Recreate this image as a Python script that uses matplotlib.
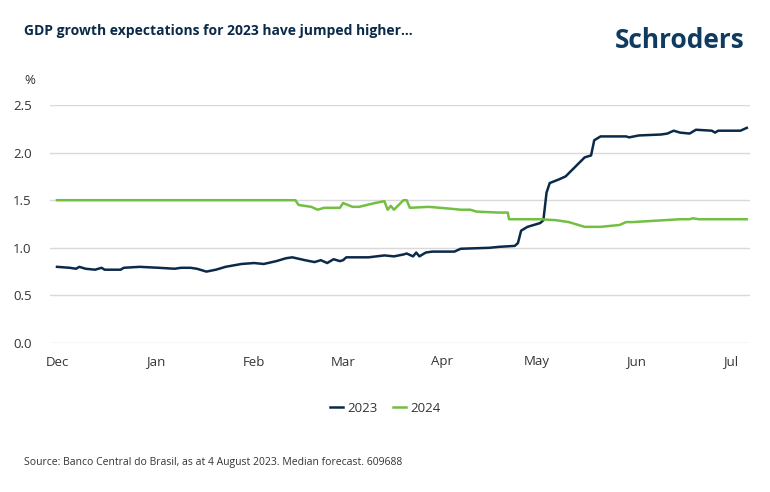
import matplotlib.pyplot as plt

# x = days since 1 Dec 2022
months = ["Dec", "Jan", "Feb", "Mar", "Apr", "May", "Jun", "Jul"]
month_days = [0, 31, 62, 90, 121, 151, 182, 212]

days_2023 = [0, 4, 6, 7, 9, 12, 14, 15, 20, 21, 26, 32, 37, 39, 42, 44, 47, 50, 53, 58,
             62, 65, 69, 72, 74, 78, 81, 83, 85, 87, 89, 90, 91, 98, 103, 106, 109, 110,
             112, 113, 114, 116, 118, 125, 127, 136, 139, 144, 145, 146, 148, 152, 153,
             154, 155, 158, 160, 163, 166, 168, 169, 171, 179, 180, 183, 190, 192, 194,
             196, 199, 201, 206, 207, 208, 215, 217]
gdp_2023 = [0.80, 0.79, 0.78, 0.80, 0.78, 0.77, 0.79, 0.77, 0.77, 0.79, 0.80, 0.79, 0.78,
            0.79, 0.79, 0.78, 0.75, 0.77, 0.80, 0.83, 0.84, 0.83, 0.86, 0.89, 0.90, 0.87,
            0.85, 0.87, 0.84, 0.88, 0.86, 0.87, 0.90, 0.90, 0.92, 0.91, 0.93, 0.94, 0.91,
            0.95, 0.91, 0.95, 0.96, 0.96, 0.99, 1.00, 1.01, 1.02, 1.05, 1.18, 1.22, 1.26,
            1.29, 1.58, 1.68, 1.72, 1.75, 1.85, 1.95, 1.97, 2.13, 2.17, 2.17, 2.16, 2.18,
            2.19, 2.20, 2.23, 2.21, 2.20, 2.24, 2.23, 2.21, 2.23, 2.23, 2.26]

days_2024 = [0, 75, 76, 80, 82, 84, 89, 90, 93, 95, 100, 103, 104, 105, 106, 109, 110,
             111, 117, 124, 127, 130, 132, 139, 141.8, 142.2, 152, 157, 161, 164, 166,
             171, 174, 177, 179, 181, 186, 191, 196, 199, 200, 202, 217]
gdp_2024 = [1.50, 1.50, 1.45, 1.43, 1.40, 1.42, 1.42, 1.47, 1.43, 1.43, 1.47, 1.49, 1.40,
            1.44, 1.40, 1.50, 1.50, 1.42, 1.43, 1.41, 1.40, 1.40, 1.38, 1.37, 1.37, 1.30,
            1.30, 1.29, 1.27, 1.24, 1.22, 1.22, 1.23, 1.24, 1.27, 1.27, 1.28, 1.29, 1.30,
            1.30, 1.31, 1.30, 1.30]

navy = "#0b2a4a"
green = "#72bf44"
text_c = "#333333"

plt.rcParams['font.family'] = ['Open Sans', 'DejaVu Sans']
fig = plt.figure(figsize=(7.7, 4.92), dpi=100)
ax = fig.add_axes([50 / 770, 1 - 343 / 492, 700 / 770, 238 / 492])

ax.plot(days_2023, gdp_2023, color=navy, lw=1.8, label="2023")
ax.plot(days_2024, gdp_2024, color=green, lw=1.8, label="2024")

ax.set_xlim(-2.2, 218)
ax.set_ylim(0, 2.5)
ax.set_yticks([0, 0.5, 1.0, 1.5, 2.0, 2.5])
ax.set_yticklabels(["0.0", "0.5", "1.0", "1.5", "2.0", "2.5"])
ax.set_xticks(month_days)
ax.set_xticklabels(months)
ax.grid(axis="y", color="#d9d9d9", lw=1)
ax.set_axisbelow(True)
for s in ax.spines.values():
    s.set_visible(False)
ax.tick_params(length=0, labelsize=9.5, colors=text_c)
ax.tick_params(axis="y", pad=8)
ax.tick_params(axis="x", pad=9)
for lab in ax.get_yticklabels():
    lab.set_horizontalalignment("left")
    lab.set_x(-0.037)

fig.text(24 / 770, 1 - 80 / 492, "%", fontsize=9.5, color=text_c, va="center")
fig.text(24 / 770, 1 - 31 / 492, "GDP growth expectations for 2023 have jumped higher...",
         fontsize=10, fontweight="bold", color=navy, va="center")
fig.text(745 / 770, 1 - 40 / 492, "Schroders", fontsize=19, fontweight="bold",
         color="#0e3b5f", ha="right", va="center")
fig.text(24 / 770, 1 - 463 / 492,
         "Source: Banco Central do Brasil, as at 4 August 2023. Median forecast. 609688",
         fontsize=7.5, color=text_c, va="center")

fig.legend(loc="center", bbox_to_anchor=(385 / 770, 1 - 408 / 492), ncol=2, frameon=False,
           fontsize=9.5, handlelength=1.0, columnspacing=1.2, handletextpad=0.3,
           labelcolor=text_c)

fig.savefig("out.png", dpi=100)
